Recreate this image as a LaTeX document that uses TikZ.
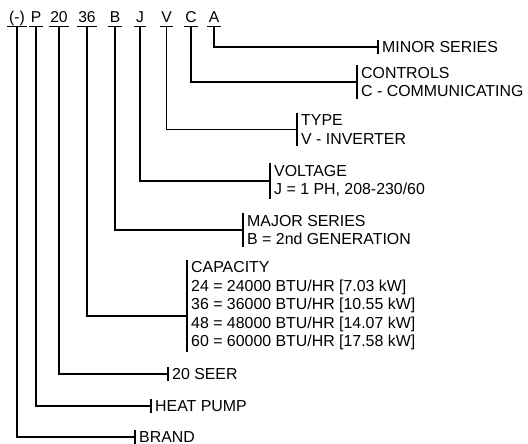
\documentclass[tikz,border=0pt]{standalone}
\usepackage{fontspec}
\setmainfont{Liberation Sans}
\usetikzlibrary{positioning}

\begin{document}
\begin{tikzpicture}[
    x=1pt, y=-1pt,
    code/.style={
      font=\fontsize{15.7}{18}\selectfont,
      inner xsep=1.5pt, inner ysep=0pt,
      text height=11.5pt, text depth=3.5pt
    },
    lbl/.style={
      anchor=west, align=left,
      font=\fontsize{15.9}{18.5}\selectfont,
      inner xsep=4pt, inner ysep=1.5pt
    },
    wire/.style={line width=1.8pt},
    bar/.style={line width=1.8pt},
    uline/.style={line width=0.9pt}
  ]
    \useasboundingbox (0,0) rectangle (528,444);

    \node[code] (hbrand) at (17,19)    {(-)};
    \node[code] (hpump)  at (36,19)    {P};
    \node[code] (hseer)  at (59,19)    {20};
    \node[code] (hcap)   at (87,19)    {36};
    \node[code] (hmajor) at (115,19)   {B};
    \node[code] (hvolt)  at (140,19)   {J};
    \node[code] (htype)  at (166.5,19) {V};
    \node[code] (hctrl)  at (191,19)   {C};
    \node[code] (hminor) at (214,19)   {A};

    \node[lbl] (minor) at (378,47)    {MINOR SERIES};
    \node[lbl] (ctrl)  at (357,82)    {CONTROLS\\C - COMMUNICATING};
    \node[lbl] (type)  at (297,129.5) {TYPE\\V - INVERTER};
    \node[lbl] (volt)  at (270,181)   {VOLTAGE\\J = 1 PH, 208-230/60};
    \node[lbl] (major) at (243,230)   {MAJOR SERIES\\B = 2nd GENERATION};
    \node[lbl] (cap)   at (187,306)   {CAPACITY\\24 = 24000 BTU/HR [7.03 kW]\\36 = 36000 BTU/HR [10.55 kW]\\48 = 48000 BTU/HR [14.07 kW]\\60 = 60000 BTU/HR [17.58 kW]};
    \node[lbl] (seer)  at (168,374)   {20 SEER};
    \node[lbl] (pump)  at (151,406)   {HEAT PUMP};
    \node[lbl] (brand) at (135,437)   {BRAND};

    \foreach \h in {hbrand,hpump,hseer,hcap,hmajor,hvolt,htype,hctrl,hminor}
      \draw[uline] (\h.south west) -- (\h.south east);

    \foreach \l in {minor,ctrl,type,volt,major,cap,seer,pump,brand}
      \draw[bar] (\l.north west) -- (\l.south west);

    \draw[wire] (hminor.south) |- (minor.west);
    \draw[wire] (hctrl.south)  |- (ctrl.west);
    \draw[wire] (htype.south)  |- (type.west);
    \draw[wire] (hvolt.south)  |- (volt.west);
    \draw[wire] (hmajor.south) |- (major.west);
    \draw[wire] (hcap.south)   |- ([yshift=-10pt]cap.west);
    \draw[wire] (hseer.south)  |- (seer.west);
    \draw[wire] (hpump.south)  |- (pump.west);
    \draw[wire] (hbrand.south) |- (brand.west);
  \end{tikzpicture}
\end{document}
